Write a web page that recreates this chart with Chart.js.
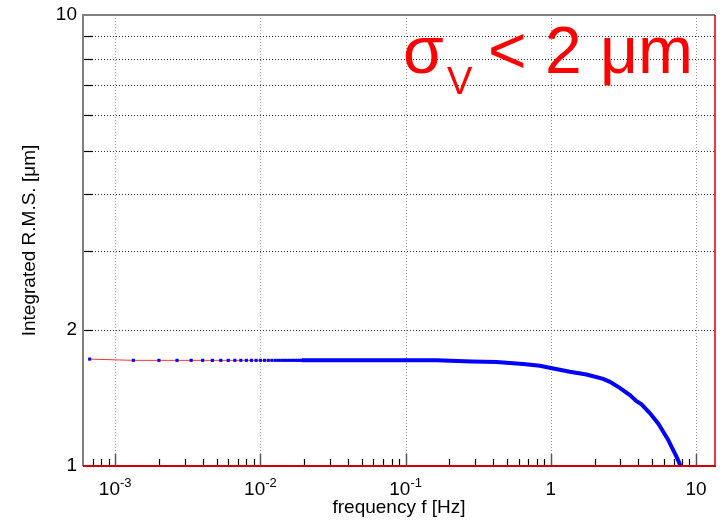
<!DOCTYPE html>
<html>
<head>
<meta charset="utf-8">
<script src="https://cdn.jsdelivr.net/npm/chart.js@4"></script>
<style>
  body { margin: 0; background: #fff; }
  #wrap { width: 721px; height: 526px; position: relative; }
</style>
</head>
<body>
<div id="wrap"><canvas id="rmsChart"></canvas></div>
<script>
// sparse low-frequency bins (markers visible)
const freqSparse = [0.000667, 0.001333, 0.002, 0.002667, 0.003333, 0.004, 0.004667, 0.005333, 0.006, 0.006667,
  0.007333, 0.008, 0.008667, 0.009333, 0.01, 0.010667, 0.011333, 0.012, 0.012667, 0.013333,
  0.014, 0.014667, 0.015333, 0.016, 0.016667, 0.017333, 0.018, 0.018667, 0.019333];
const rmsSparse = [1.726, 1.715, 1.715, 1.715, 1.715, 1.715, 1.715, 1.715, 1.715, 1.715,
  1.715, 1.715, 1.715, 1.715, 1.715, 1.715, 1.715, 1.715, 1.715, 1.715,
  1.715, 1.715, 1.715, 1.715, 1.715, 1.715, 1.715, 1.715, 1.715];

// dense part, markers merge into a thick line
const freqDense = [0.0193, 0.163, 0.285, 0.423, 0.522, 0.645, 0.84, 1.0, 1.35, 1.76, 2.29, 2.55,
  2.98, 3.5, 3.89, 4.21, 4.8, 5.48, 5.93, 6.4, 6.77, 7.33, 7.85];
const rmsDense = [1.715, 1.715, 1.706, 1.700, 1.691, 1.683, 1.668, 1.650, 1.618, 1.595, 1.560, 1.537,
  1.490, 1.437, 1.392, 1.370, 1.310, 1.243, 1.193, 1.145, 1.104, 1.049, 0.997];

const xDecades = [0.001, 0.01, 0.1, 1, 10];
const xDecadeLabels = [['10', '-3'], ['10', '-2'], ['10', '-1'], ['1', ''], ['10', '']];
const xMinorTicks = [0.0007, 0.0008, 0.0009,
  0.002, 0.003, 0.004, 0.005, 0.006, 0.007, 0.008, 0.009,
  0.02, 0.03, 0.04, 0.05, 0.06, 0.07, 0.08, 0.09,
  0.2, 0.3, 0.4, 0.5, 0.6, 0.7, 0.8, 0.9,
  2, 3, 4, 5, 6, 7, 8, 9];
const yGrid = [2, 3, 4, 5, 6, 7, 8, 9];
const yLabels = [1, 2, 10];

const FONT = '"Liberation Sans", Arial, sans-serif';

const toPoints = (xs, ys) => xs.map((x, i) => ({ x: x, y: ys[i] }));

const framePlugin = {
  id: 'frame',
  beforeDatasetsDraw(chart) {
    const ctx = chart.ctx;
    const a = chart.chartArea;
    const xs = chart.scales.x, ys = chart.scales.y;
    ctx.save();
    ctx.lineWidth = 1;
    ctx.setLineDash([1, 2]);
    ctx.strokeStyle = '#9a9a9a';
    xDecades.forEach(v => {
      const px = Math.round(xs.getPixelForValue(v)) + 0.5;
      ctx.beginPath(); ctx.moveTo(px, a.top); ctx.lineTo(px, a.bottom); ctx.stroke();
    });
    ctx.strokeStyle = '#333';
    yGrid.forEach(v => {
      const py = Math.round(ys.getPixelForValue(v)) + 0.5;
      ctx.beginPath(); ctx.moveTo(a.left, py); ctx.lineTo(a.right, py); ctx.stroke();
    });
    ctx.restore();
  },
  afterDatasetsDraw(chart) {
    const ctx = chart.ctx;
    const a = chart.chartArea;
    const xs = chart.scales.x, ys = chart.scales.y;
    ctx.save();
    ctx.setLineDash([]);

    // ticks on the left axis
    ctx.strokeStyle = '#000';
    ctx.lineWidth = 1.2;
    yGrid.forEach(v => {
      const py = Math.round(ys.getPixelForValue(v)) + 0.5;
      ctx.beginPath(); ctx.moveTo(a.left, py); ctx.lineTo(a.left + 10, py); ctx.stroke();
    });
    // ticks on the bottom axis
    xMinorTicks.forEach(v => {
      const px = Math.round(xs.getPixelForValue(v)) + 0.5;
      ctx.beginPath(); ctx.moveTo(px, a.bottom); ctx.lineTo(px, a.bottom - 7); ctx.stroke();
    });
    ctx.strokeStyle = '#555';
    ctx.lineWidth = 1.5;
    xDecades.forEach(v => {
      const px = Math.round(xs.getPixelForValue(v)) + 0.5;
      ctx.beginPath(); ctx.moveTo(px, a.bottom); ctx.lineTo(px, a.bottom - 12); ctx.stroke();
    });

    // frame
    ctx.strokeStyle = '#808080';
    ctx.lineWidth = 2;
    ctx.beginPath(); ctx.moveTo(a.left, a.bottom); ctx.lineTo(a.left, a.top); ctx.lineTo(a.right, a.top); ctx.stroke();
    ctx.strokeStyle = '#d00000';
    ctx.lineWidth = 1.5;
    ctx.beginPath(); ctx.moveTo(a.right, a.top); ctx.lineTo(a.right, a.bottom); ctx.stroke();
    ctx.lineWidth = 2;
    ctx.beginPath(); ctx.moveTo(a.left, a.bottom); ctx.lineTo(a.right + 1, a.bottom); ctx.stroke();

    // y tick labels
    ctx.fillStyle = '#000';
    ctx.font = '19px ' + FONT;
    ctx.textAlign = 'right';
    ctx.textBaseline = 'middle';
    yLabels.forEach(v => ctx.fillText(String(v), a.left - 6, ys.getPixelForValue(v)));

    // x tick labels with exponents
    ctx.textAlign = 'left';
    ctx.textBaseline = 'alphabetic';
    xDecades.forEach((v, i) => {
      const [base, exp] = xDecadeLabels[i];
      ctx.font = '19px ' + FONT;
      const wb = ctx.measureText(base).width;
      ctx.font = '13px ' + FONT;
      const we = exp ? ctx.measureText(exp).width : 0;
      const x0 = xs.getPixelForValue(v) - (wb + we) / 2;
      ctx.font = '19px ' + FONT;
      ctx.fillText(base, x0, 495);
      if (exp) {
        ctx.font = '13px ' + FONT;
        ctx.fillText(exp, x0 + wb, 487);
      }
    });

    // axis titles
    ctx.font = '19px ' + FONT;
    ctx.textAlign = 'center';
    ctx.fillText('frequency f [Hz]', (a.left + a.right) / 2, 513);
    ctx.save();
    ctx.translate(35, (a.top + a.bottom) / 2);
    ctx.rotate(-Math.PI / 2);
    ctx.fillText('Integrated R.M.S. [\u03bcm]', 0, 0);
    ctx.restore();

    // annotation
    ctx.fillStyle = '#ff0000';
    ctx.textAlign = 'left';
    ctx.font = '66px ' + FONT;
    ctx.fillText('\u03c3', 403, 73);
    ctx.fillText('< 2 \u03bcm', 488, 73);
    ctx.font = '38px ' + FONT;
    ctx.fillText('V', 447, 94);

    ctx.restore();
  }
};

new Chart(document.getElementById('rmsChart'), {
  type: 'scatter',
  data: {
    datasets: [
      {
        label: 'dense',
        data: toPoints(freqDense, rmsDense),
        showLine: true,
        borderColor: '#0000ff',
        borderWidth: 4,
        pointRadius: 0,
        tension: 0
      },
      {
        label: 'sparse',
        data: toPoints(freqSparse, rmsSparse),
        showLine: true,
        borderColor: '#ff3030',
        borderWidth: 1,
        pointStyle: 'rect',
        pointRadius: 2.2,
        pointBorderWidth: 0,
        pointBackgroundColor: '#0000ff',
        tension: 0
      }
    ]
  },
  options: {
    responsive: true,
    maintainAspectRatio: false,
    animation: false,
    layout: { padding: { left: 83, right: 6, top: 15, bottom: 60 } },
    plugins: { legend: { display: false }, tooltip: { enabled: false } },
    scales: {
      x: { type: 'logarithmic', min: 0.000602, max: 13.5, display: false },
      y: { type: 'logarithmic', min: 1, max: 10, display: false }
    }
  },
  plugins: [framePlugin]
});
</script>
</body>
</html>
